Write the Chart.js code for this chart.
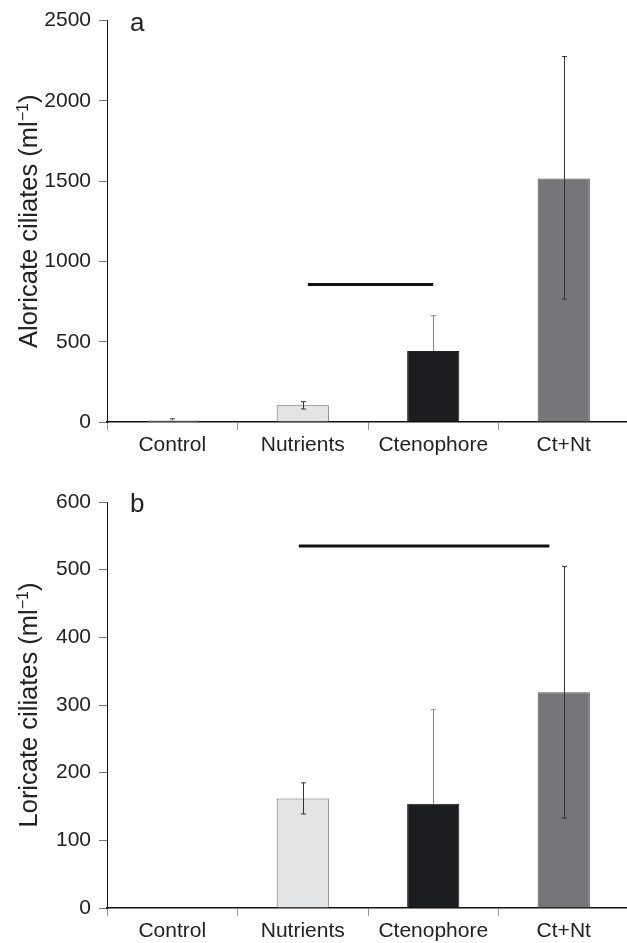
<!DOCTYPE html>
<html>
<head>
<meta charset="utf-8">
<script src="https://cdn.jsdelivr.net/npm/chart.js@4.4.0/dist/chart.umd.min.js"></script>
<style>
body{margin:0;background:#fff;overflow:hidden;width:627px;height:943px;position:relative}
canvas{position:absolute;left:0}
#chartA{top:0}
#chartB{top:470px}
</style>
</head>
<body>
<canvas id="chartA" width="629" height="470" style="width:629px;height:470px"></canvas>
<canvas id="chartB" width="629" height="473" style="width:629px;height:473px"></canvas>
<script>
var treatments=['Control','Nutrients','Ctenophore','Ct+Nt']
var barColors=['#ffffff','#e3e4e6','#1c1d20','#76757a']
var barBorders=['#6a6a6a','#6a6a6a','#1c1d20','#505050']
var errColors=['#444','#333','#888','#333']

// panel a - aloricate ciliates
var alorMean=[10,104,442,1517]
var alorErrUp=[10,23,220,759]
var alorErrDown=[0,23,0,752]
var alorTicks=[0,500,1000,1500,2000,2500]
var alorSig=[1.04,2.0,857]   // from cat, to cat, level

// panel b - loricate ciliates
var loriMean=[0,162,154,319]
var loriErrUp=[0,23,139,186]
var loriErrDown=[0,23,0,186]
var loriTicks=[0,100,200,300,400,500,600]
var loriSig=[0.97,2.89,535]

var FONT='"Liberation Sans", Arial, Helvetica, sans-serif'

function extrasPlugin(up,down,mean,sig,letter,title){
  return {
    id:'extras',
    afterDatasetsDraw:function(chart){
      var ctx=chart.ctx, x=chart.scales.x, y=chart.scales.y
      ctx.save()
      ctx.lineWidth=1
      for(var i=0;i<mean.length;i++){
        if(!up[i] && !down[i]) continue
        var cx=Math.round(x.getPixelForValue(i))+0.5
        var t=y.getPixelForValue(mean[i]+up[i])
        var b=y.getPixelForValue(mean[i]-down[i])
        ctx.strokeStyle=errColors[i]
        ctx.beginPath()
        ctx.moveTo(cx,t);ctx.lineTo(cx,b)
        if(up[i]){ctx.moveTo(cx-2.5,t);ctx.lineTo(cx+2.5,t)}
        if(down[i]){ctx.moveTo(cx-2.5,b);ctx.lineTo(cx+2.5,b)}
        ctx.stroke()
      }
      // significance line
      ctx.strokeStyle='#111'
      ctx.lineWidth=3
      var sy=y.getPixelForValue(sig[2])
      ctx.beginPath()
      ctx.moveTo(x.getPixelForValue(sig[0]),sy)
      ctx.lineTo(x.getPixelForValue(sig[1]),sy)
      ctx.stroke()
      ctx.restore()
    },
    afterDraw:function(chart){
      var ctx=chart.ctx, a=chart.chartArea
      ctx.save()
      ctx.fillStyle='#222'
      ctx.font='26px '+FONT
      ctx.textBaseline='alphabetic'
      ctx.fillText(letter,a.left+23,a.top+10)
      // y axis title with superscript
      var big='25.5px '+FONT, small='16px '+FONT
      var p1=title+' (ml', p2='\u22121', p3=')'
      ctx.font=big; var w1=ctx.measureText(p1).width, w3=ctx.measureText(p3).width
      ctx.font=small; var w2=ctx.measureText(p2).width
      var tot=w1+w2+w3
      ctx.translate(37,(a.top+a.bottom)/2)
      ctx.rotate(-Math.PI/2)
      var sx=-tot/2
      ctx.font=big; ctx.fillText(p1,sx,0)
      ctx.font=small; ctx.fillText(p2,sx+w1,-9)
      ctx.font=big; ctx.fillText(p3,sx+w1+w2,0)
      ctx.restore()
    }
  }
}

function makeChart(id,mean,up,down,ticks,sig,letter,title,padTop,bottomH){
  return new Chart(document.getElementById(id),{
    type:'bar',
    data:{
      labels:treatments,
      datasets:[{
        data:mean,
        backgroundColor:barColors,
        borderColor:barBorders,
        borderWidth:1,
        barPercentage:0.4,
        categoryPercentage:1
      }]
    },
    options:{
      responsive:false,
      animation:false,
      layout:{padding:{top:padTop,left:0,right:0,bottom:0}},
      plugins:{legend:{display:false},tooltip:{enabled:false}},
      scales:{
        x:{
          grid:{offset:true,drawOnChartArea:false,drawTicks:true,tickLength:8,color:'#999'},
          border:{color:'#111',width:1.5},
          ticks:{font:{family:FONT,size:21},color:'#222',padding:3,maxRotation:0},
          afterFit:function(s){s.height=bottomH}
        },
        y:{
          min:0,
          max:ticks[ticks.length-1],
          afterBuildTicks:function(s){s.ticks=ticks.map(function(v){return {value:v}})},
          grid:{drawOnChartArea:false,tickLength:8,color:'#777'},
          border:{color:'#111',width:1},
          ticks:{font:{family:FONT,size:21},color:'#222',padding:8,callback:function(v){return String(v)}},
          afterFit:function(s){s.width=107}
        }
      }
    },
    plugins:[extrasPlugin(up,down,mean,sig,letter,title)]
  })
}

makeChart('chartA',alorMean,alorErrUp,alorErrDown,alorTicks,alorSig,'a','Aloricate ciliates',18,48)
makeChart('chartB',loriMean,loriErrUp,loriErrDown,loriTicks,loriSig,'b','Loricate ciliates',32,35)
</script>
</body>
</html>
